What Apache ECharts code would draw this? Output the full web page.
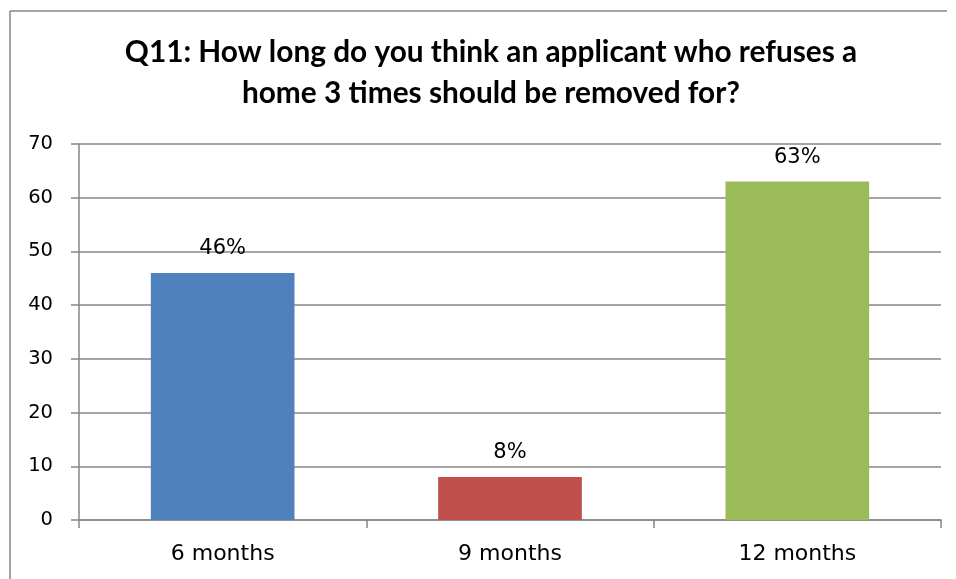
<!DOCTYPE html>
<html>
<head>
<meta charset="utf-8">
<script src="https://cdn.jsdelivr.net/npm/echarts@6/dist/echarts.min.js"></script>
<style>
  html, body { margin: 0; padding: 0; background: #fff; }
  #chart { width: 956px; height: 579px; }
</style>
</head>
<body>
<div id="chart"></div>
<script>
// Survey answers: length of removal after refusing a home three times
const categories = ['6 months', '9 months', '12 months'];
const values = [46, 8, 63];
const barColors = ['#4F81BD', '#C0504D', '#9BBB59'];
const yTicks = { min: 0, max: 70, interval: 10 };
const titleText = 'Q11: How long do you think an applicant who refuses a\nhome 3 times should be removed for?';

const TITLE_FONT = 'Lato';
const FONT = 'DejaVu Sans';
const gridColor = '#868686';

const chart = echarts.init(document.getElementById('chart'), null, { renderer: 'canvas' });

chart.setOption({
  animation: false,
  backgroundColor: '#ffffff',
  title: {
    text: titleText,
    left: 486,
    top: 27,
    textAlign: 'center',
    textStyle: {
      fontFamily: TITLE_FONT,
      fontWeight: 'bold',
      fontSize: 29.8,
      lineHeight: 41,
      color: '#000'
    }
  },
  grid: { left: 79, right: 15, top: 144, bottom: 59, containLabel: false },
  xAxis: {
    type: 'category',
    data: categories,
    axisLine: { lineStyle: { color: gridColor, width: 1.5 } },
    axisTick: { show: true, length: 8, lineStyle: { color: gridColor, width: 1.5 } },
    axisLabel: { fontFamily: FONT, fontSize: 22, color: '#000', margin: 23 }
  },
  yAxis: {
    type: 'value',
    min: yTicks.min,
    max: yTicks.max,
    interval: yTicks.interval,
    axisLine: { show: true, lineStyle: { color: gridColor, width: 1.5 } },
    axisTick: { show: true, length: 8, lineStyle: { color: gridColor, width: 1.5 } },
    splitLine: { lineStyle: { color: gridColor, width: 1.5 } },
    axisLabel: { fontFamily: FONT, fontSize: 19.5, color: '#000', margin: 26 }
  },
  series: [{
    type: 'bar',
    barWidth: '50%',
    data: values.map((v, i) => ({ value: v, itemStyle: { color: barColors[i] } })),
    label: {
      show: true,
      position: 'top',
      distance: 14,
      formatter: p => p.value + '%',
      fontFamily: FONT,
      fontSize: 21,
      color: '#000'
    }
  }],
  graphic: [
    { type: 'line', shape: { x1: 10, y1: 11, x2: 947, y2: 11 }, style: { stroke: gridColor, lineWidth: 1.5 } },
    { type: 'line', shape: { x1: 10, y1: 11, x2: 10, y2: 579 }, style: { stroke: gridColor, lineWidth: 1.5 } }
  ]
});
</script>
</body>
</html>
